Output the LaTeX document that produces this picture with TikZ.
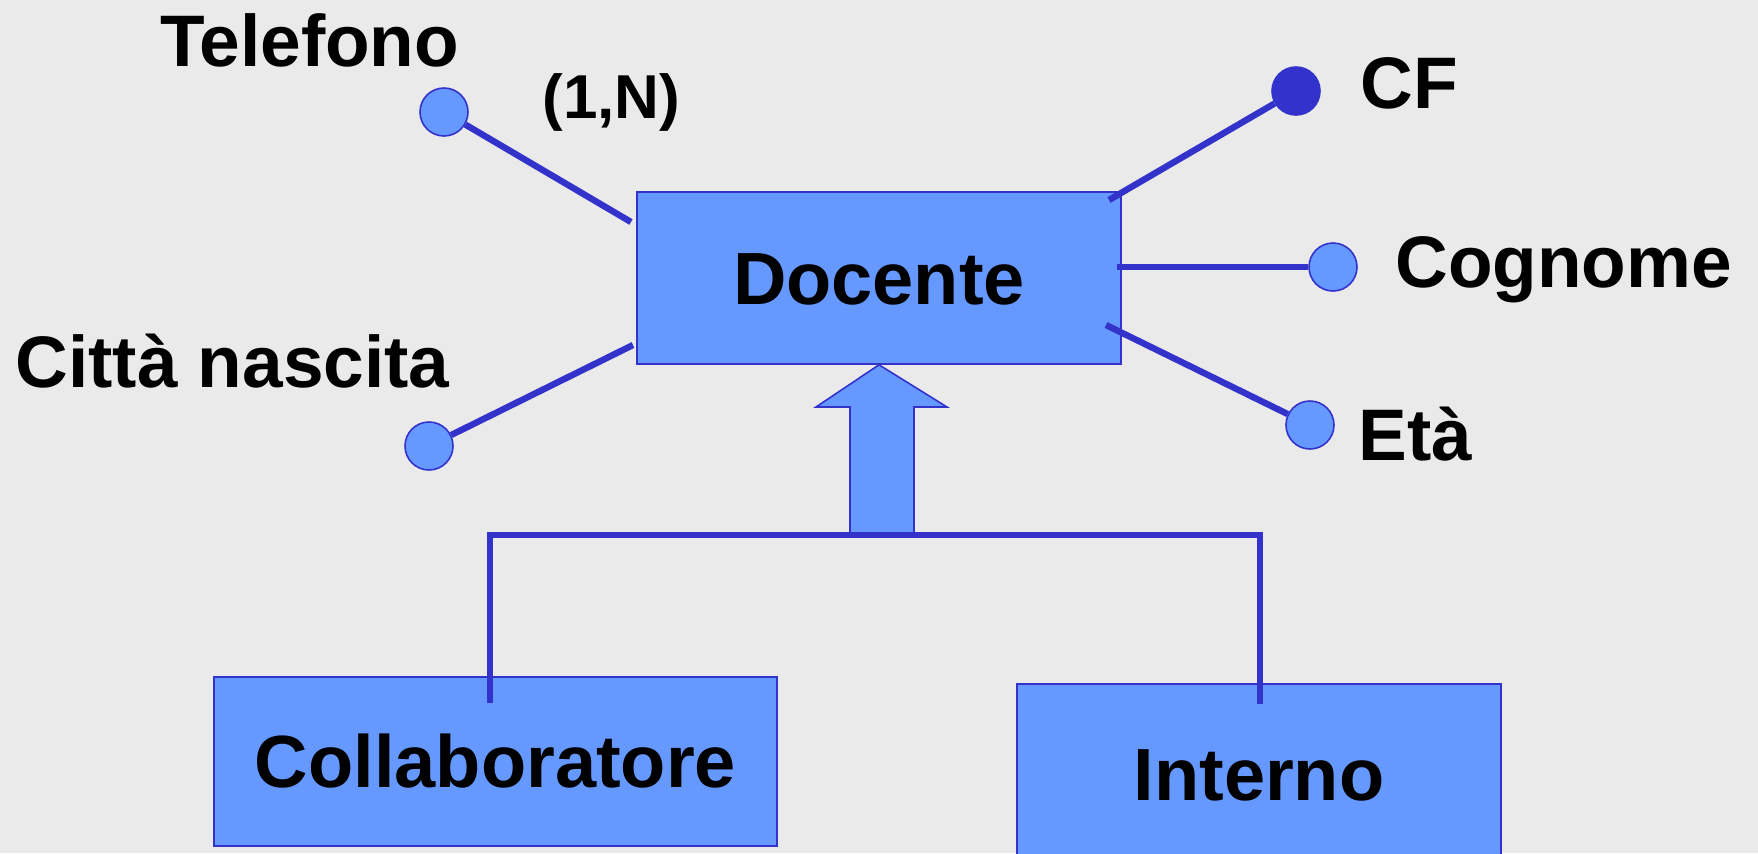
\documentclass[tikz,border=0pt]{standalone}
\usepackage{fontspec}
\setmainfont{Liberation Sans}
\definecolor{lineblue}{HTML}{3333CC}
\definecolor{boxblue}{HTML}{6699FF}
\definecolor{bgcol}{HTML}{EAEAEA}
\begin{document}
\begin{tikzpicture}[x=0.5pt,y=-0.5pt,
  ent/.style={draw=lineblue, fill=boxblue, line width=0.8pt, inner sep=0pt,
    text height=26pt, text depth=0pt,
    font=\fontsize{37}{40}\selectfont\bfseries},
  attr/.style={circle, draw=lineblue, fill=boxblue, line width=0.8pt,
    minimum size=24pt, inner sep=0pt},
  keyattr/.style={attr, fill=lineblue},
  lbl/.style={anchor=base west, inner sep=0pt,
    font=\fontsize{36.5}{40}\selectfont\bfseries},
  conn/.style={draw=lineblue, line width=3.2pt}]
\useasboundingbox (0,0) rectangle (1758,853);
\fill[bgcol] (0,0) rectangle (1758,853);

% entities
\node[ent, minimum width=242pt, minimum height=86pt] (doc) at (879,278) {Docente};
\node[ent, minimum width=281.5pt, minimum height=84.5pt] (col) at (495.5,761.5) {Collaboratore};
\node[ent, minimum width=242pt, minimum height=90pt] (int) at (1259,774) {Interno};

% attributes
\node[attr] (tel) at (444,112) {};
\node[attr] (cit) at (429,446) {};
\node[keyattr] (cf) at (1296,91) {};
\node[attr] (cog) at (1333,267) {};
\node[attr] (eta) at (1310,425) {};

% connector ends on the entity
\coordinate (telE) at (631,222);
\coordinate (citE) at (633,345);
\coordinate (cfE) at (1109,200);
\coordinate (cogE) at (1117,267);
\coordinate (etaE) at (1106,325);

\draw[conn] (tel) -- (telE);
\draw[conn] (cit) -- (citE);
\draw[conn] (cf) -- (cfE);
\draw[conn] (cog) -- (cogE);
\draw[conn] (eta) -- (etaE);

% labels
\node[lbl] (telL) at (160,66) {Telefono};
\node[lbl, font=\fontsize{31}{34}\selectfont\bfseries] (card) at (542,118) {(1,N)};
\node[lbl] (citL) at (15,387) {Città nascita};
\node[lbl] (cfL) at (1360,108) {CF};
\node[lbl] (cogL) at (1395,287) {Cognome};
\node[lbl] (etaL) at (1358,460) {Età};

% generalization
\coordinate (colT) at (490,703);
\coordinate (hl) at (490,535);
\coordinate (hr) at (1260,535);
\coordinate (intT) at (1260,704);
\draw[conn, line join=miter] (colT) -- (hl) -- (hr) -- (intT);
\draw[fill=boxblue, draw=lineblue, line width=0.8pt]
  (doc.south) -- (947,407) -- (914,407) -- (914,533) -- (850,533)
  -- (850,407) -- (816,407) -- cycle;
\end{tikzpicture}
\end{document}
